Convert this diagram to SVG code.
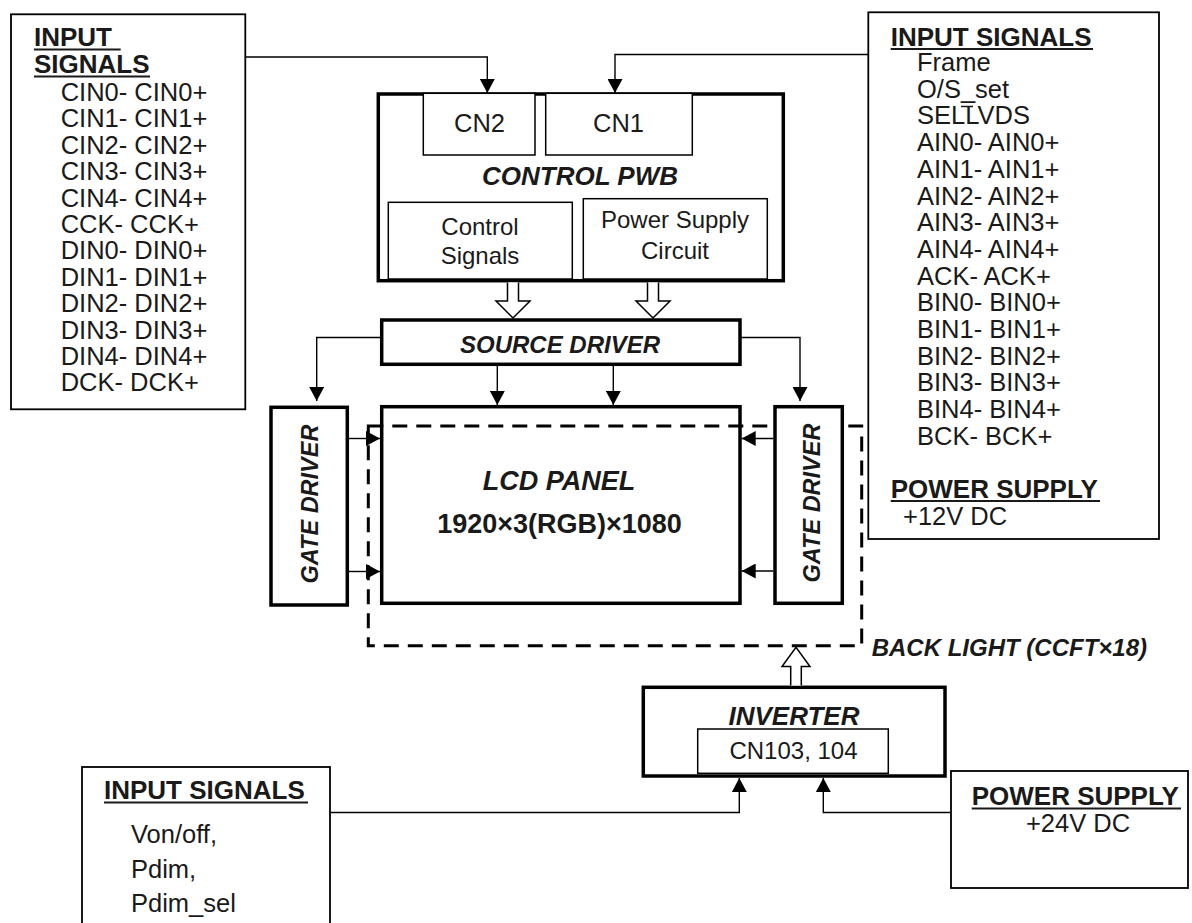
<svg xmlns="http://www.w3.org/2000/svg" width="1192" height="923" viewBox="0 0 1192 923">
<defs>
<style>
.box{fill:#fff;stroke:#000;stroke-width:1.8}
.thin{fill:#fff;stroke:#000;stroke-width:1.5}
.thick{fill:#fff;stroke:#000;stroke-width:3.5}
.conn{fill:none;stroke:#000;stroke-width:1.4}
.hollow{fill:#fff;stroke:#000;stroke-width:1.5}
.dash{fill:none;stroke:#000;stroke-width:3;stroke-dasharray:15 9}
.ul{stroke:#1a1a1a;stroke-width:2}
text{font-family:"Liberation Sans",Arial,sans-serif;fill:#1a1a1a;font-size:25.5px}
.h{font-weight:bold;font-size:26px}
.bi{font-weight:bold;font-style:italic}
.c{text-anchor:middle}
</style>
<marker id="ah" markerUnits="userSpaceOnUse" markerWidth="15" markerHeight="15" refX="14" refY="7.5" orient="auto">
<path d="M0,0 L14,7.5 L0,15 z" fill="#000"/>
</marker>
</defs>
<rect width="1192" height="923" fill="#fff"/>

<g id="input-left">
<rect class="box" x="11" y="14.3" width="234.3" height="395"/>
<text class="h" x="34" y="46">INPUT</text>
<line class="ul" x1="34" y1="49.5" x2="120.7" y2="49.5"/>
<text class="h" x="34" y="72.5">SIGNALS</text>
<line class="ul" x1="34" y1="76.5" x2="150" y2="76.5"/>
<text x="60.7" y="101">CIN0- CIN0+</text>
<text x="60.7" y="127.4">CIN1- CIN1+</text>
<text x="60.7" y="153.8">CIN2- CIN2+</text>
<text x="60.7" y="180.2">CIN3- CIN3+</text>
<text x="60.7" y="206.6">CIN4- CIN4+</text>
<text x="60.7" y="233">CCK- CCK+</text>
<text x="60.7" y="259.4">DIN0- DIN0+</text>
<text x="60.7" y="285.8">DIN1- DIN1+</text>
<text x="60.7" y="312.2">DIN2- DIN2+</text>
<text x="60.7" y="338.6">DIN3- DIN3+</text>
<text x="60.7" y="365">DIN4- DIN4+</text>
<text x="60.7" y="391.4">DCK- DCK+</text>
</g>

<g id="input-right">
<rect class="box" x="868.3" y="12.3" width="290.7" height="526.7"/>
<text class="h" x="890.7" y="45.5">INPUT SIGNALS</text>
<line class="ul" x1="890.7" y1="49" x2="1093" y2="49"/>
<text x="917" y="71">Frame</text>
<text x="917" y="97.7">O/S_set</text>
<text x="917" y="124.4">SELLVDS</text>
<line x1="961" y1="106.5" x2="973" y2="106.5" stroke="#1a1a1a" stroke-width="1.5"/>
<text x="917" y="151.1">AIN0- AIN0+</text>
<text x="917" y="177.8">AIN1- AIN1+</text>
<text x="917" y="204.5">AIN2- AIN2+</text>
<text x="917" y="231.2">AIN3- AIN3+</text>
<text x="917" y="257.9">AIN4- AIN4+</text>
<text x="917" y="284.6">ACK- ACK+</text>
<text x="917" y="311.3">BIN0- BIN0+</text>
<text x="917" y="338">BIN1- BIN1+</text>
<text x="917" y="364.7">BIN2- BIN2+</text>
<text x="917" y="391.4">BIN3- BIN3+</text>
<text x="917" y="418.1">BIN4- BIN4+</text>
<text x="917" y="444.8">BCK- BCK+</text>
<text class="h" x="890.7" y="497.5">POWER SUPPLY</text>
<line class="ul" x1="890.7" y1="501" x2="1100" y2="501"/>
<text x="903" y="525">+12V DC</text>
</g>

<g id="control-pwb">
<rect class="thick" x="378.3" y="94" width="405" height="186.7"/>
<rect class="thin" x="423.3" y="93.3" width="111.7" height="61.7"/>
<text class="c" x="479.5" y="132">CN2</text>
<rect class="thin" x="545.7" y="93.3" width="146.6" height="61.7"/>
<text class="c" x="618.5" y="132">CN1</text>
<text class="bi c" x="580" y="185" style="font-size:26px">CONTROL PWB</text>
<rect class="thin" x="388.3" y="202.3" width="184" height="76.7"/>
<text class="c" x="480" y="235" style="font-size:24px">Control</text>
<text class="c" x="480" y="264" style="font-size:24px">Signals</text>
<rect class="thin" x="583.3" y="198.7" width="184" height="80.3"/>
<text class="c" x="675" y="228" style="font-size:24px">Power Supply</text>
<text class="c" x="675" y="259" style="font-size:24px">Circuit</text>
</g>

<g id="source-driver">
<rect class="thick" x="381.7" y="320" width="358.3" height="44.3"/>
<text class="bi c" x="560" y="353" style="font-size:24px">SOURCE DRIVER</text>
</g>

<g id="lcd-panel">
<rect class="thick" x="381.7" y="406.7" width="358.3" height="196.6"/>
<text class="bi c" x="559" y="490" style="font-size:27px">LCD PANEL</text>
<text class="c" x="559.5" y="533" style="font-size:27px;font-weight:bold">1920×3(RGB)×1080</text>
</g>

<g id="back-light">
<rect class="dash" x="368.3" y="426" width="493.4" height="219.7"/>
<text class="bi" x="871.7" y="656" style="font-size:24px">BACK LIGHT (CCFT×18)</text>
</g>

<g id="gate-driver-left">
<rect class="thick" x="271" y="407.3" width="76.3" height="197.7"/>
<text class="bi c" transform="translate(318.3,504) rotate(-90)" style="font-size:23.5px">GATE DRIVER</text>
</g>

<g id="gate-driver-right">
<rect class="thick" x="775" y="406.7" width="67.3" height="196.6"/>
<text class="bi c" transform="translate(820,503) rotate(-90)" style="font-size:23.5px">GATE DRIVER</text>
</g>

<g id="inverter">
<rect class="thick" x="643.3" y="687.3" width="301.7" height="88.7"/>
<text class="bi c" x="794" y="725" style="font-size:26px">INVERTER</text>
<rect class="thin" x="697.7" y="729" width="190.6" height="44.3"/>
<text class="c" x="793.5" y="759" style="font-size:24px">CN103, 104</text>
</g>

<g id="input-bottom">
<rect class="box" x="82" y="767" width="248" height="170"/>
<text class="h" x="104" y="799">INPUT SIGNALS</text>
<line class="ul" x1="104" y1="802.5" x2="308" y2="802.5"/>
<text x="131" y="843">Von/off,</text>
<text x="131" y="877.5">Pdim,</text>
<text x="131" y="912">Pdim_sel</text>
</g>

<g id="power-bottom">
<rect class="box" x="951" y="771" width="237" height="117"/>
<text class="h" x="971.7" y="805">POWER SUPPLY</text>
<line class="ul" x1="971.7" y1="808.5" x2="1181" y2="808.5"/>
<text class="c" x="1078" y="832">+24V DC</text>
</g>

<g id="connectors">
<polyline class="conn" points="245.3,57 487.3,57 487.3,93" marker-end="url(#ah)"/>
<polyline class="conn" points="868.3,54.5 615,54.5 615,93" marker-end="url(#ah)"/>
<polyline class="conn" points="381.7,337.5 316.7,337.5 316.7,401" marker-end="url(#ah)"/>
<polyline class="conn" points="740,337.5 800,337.5 800,401" marker-end="url(#ah)"/>
<line class="conn" x1="497.3" y1="366" x2="497.3" y2="405" marker-end="url(#ah)"/>
<line class="conn" x1="613.3" y1="366" x2="613.3" y2="405" marker-end="url(#ah)"/>
<line class="conn" x1="349" y1="438.5" x2="380" y2="438.5" marker-end="url(#ah)"/>
<line class="conn" x1="349" y1="571.5" x2="380" y2="571.5" marker-end="url(#ah)"/>
<line class="conn" x1="773.3" y1="438.5" x2="741.7" y2="438.5" marker-end="url(#ah)"/>
<line class="conn" x1="773.3" y1="571" x2="741.7" y2="571" marker-end="url(#ah)"/>
<polyline class="conn" points="330,812.5 739.3,812.5 739.3,778" marker-end="url(#ah)"/>
<polyline class="conn" points="951,812.5 823.3,812.5 823.3,778" marker-end="url(#ah)"/>
<path class="hollow" d="M507.5,282.5 V301 H496 L513,318 L530,301 H518.5 V282.5"/>
<path class="hollow" d="M647.5,282.5 V301 H636 L653,318 L670,301 H658.5 V282.5"/>
<path class="hollow" d="M790.7,685.5 V666.5 H782 L796,647.3 L810,666.5 H801.3 V685.5"/>
</g>
</svg>
